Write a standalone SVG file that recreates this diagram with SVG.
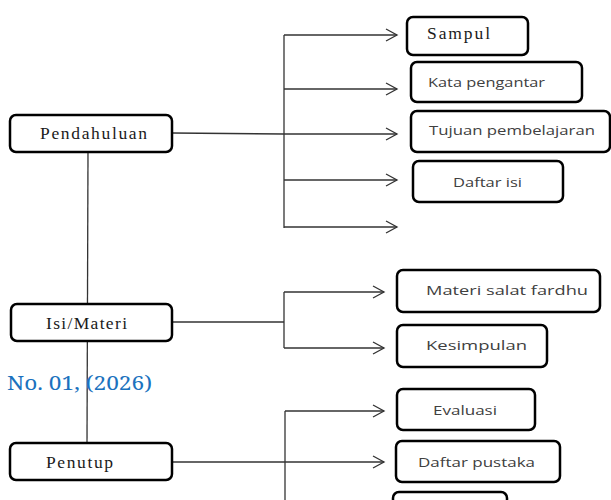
<svg xmlns="http://www.w3.org/2000/svg" width="611" height="500" viewBox="0 0 611 500">
<style>
.box{fill:#fff;stroke:#000;stroke-width:2.5}
.ln{fill:none;stroke:#333;stroke-width:1.3}
.serif{font-family:"Liberation Serif","Times New Roman",serif;font-size:17.5px;font-weight:normal;fill:#1a1a1a}
.sans{font-family:"Open Sans","Liberation Sans",sans-serif;font-size:13.5px;fill:#404040}
</style>
<defs>
<marker id="ah" markerWidth="14" markerHeight="14" refX="12" refY="7" orient="auto" markerUnits="userSpaceOnUse">
<path d="M1,1 L12,7 L1,13" fill="none" stroke="#333" stroke-width="1.3"/>
</marker>
</defs>
<rect width="611" height="500" fill="#fff"/>
<g id="connectors">
<path class="ln" d="M88,152 L87,443"/>
<path class="ln" d="M172,133 L284,134"/>
<path class="ln" d="M284,35 L284,228"/>
<path class="ln" d="M284,35 L397,35" marker-end="url(#ah)"/>
<path class="ln" d="M284,89 L397,89" marker-end="url(#ah)"/>
<path class="ln" d="M284,134 L397,134" marker-end="url(#ah)"/>
<path class="ln" d="M284,180 L397,180" marker-end="url(#ah)"/>
<path class="ln" d="M284,227 L397,227" marker-end="url(#ah)"/>
<path class="ln" d="M172,322 L284,322"/>
<path class="ln" d="M284,292 L284,348"/>
<path class="ln" d="M284,292 L384,292" marker-end="url(#ah)"/>
<path class="ln" d="M284,348 L384,348" marker-end="url(#ah)"/>
<path class="ln" d="M285,411 L285,500"/>
<path class="ln" d="M285,411 L384,411" marker-end="url(#ah)"/>
<path class="ln" d="M172,462 L384,462" marker-end="url(#ah)"/>
</g>
<text x="7" y="390" font-family="'Noto Serif','DejaVu Serif','Liberation Serif',serif" font-size="20" fill="#1b72be" textLength="145" lengthAdjust="spacingAndGlyphs">No. 01, (2026)</text>
<g id="pendahuluan"><rect class="box" x="10" y="115" width="162" height="37" rx="6"/><text class="serif" x="40" y="139" textLength="107" lengthAdjust="spacing">Pendahuluan</text></g>
<g id="isi-materi"><rect class="box" x="11" y="304" width="161" height="37" rx="6"/><text class="serif" x="46" y="329" textLength="81" lengthAdjust="spacing">Isi/Materi</text></g>
<g id="penutup"><rect class="box" x="10" y="443" width="162" height="37" rx="6"/><text class="serif" x="46" y="468" textLength="67" lengthAdjust="spacing">Penutup</text></g>
<g id="sampul"><rect class="box" x="407" y="17" width="121" height="38" rx="6"/><text class="serif" x="427" y="39" textLength="63" lengthAdjust="spacing">Sampul</text></g>
<g id="kata-pengantar"><rect class="box" x="411" y="62" width="171" height="40" rx="6"/><text class="sans" x="428" y="87" textLength="117" lengthAdjust="spacingAndGlyphs">Kata pengantar</text></g>
<g id="tujuan"><rect class="box" x="411" y="111" width="199" height="41" rx="6"/><text class="sans" x="429" y="135" textLength="166" lengthAdjust="spacingAndGlyphs">Tujuan pembelajaran</text></g>
<g id="daftar-isi"><rect class="box" x="413" y="161" width="150" height="41" rx="6"/><text class="sans" x="453" y="187" textLength="69" lengthAdjust="spacingAndGlyphs">Daftar isi</text></g>
<g id="materi-salat"><rect class="box" x="397" y="270" width="203" height="42" rx="6"/><text class="sans" x="426" y="295" textLength="162" lengthAdjust="spacingAndGlyphs">Materi salat fardhu</text></g>
<g id="kesimpulan"><rect class="box" x="397" y="325" width="150" height="42" rx="6"/><text class="sans" x="426" y="350" textLength="101" lengthAdjust="spacingAndGlyphs">Kesimpulan</text></g>
<g id="evaluasi"><rect class="box" x="397" y="389" width="138" height="41" rx="6"/><text class="sans" x="433" y="415" textLength="64" lengthAdjust="spacingAndGlyphs">Evaluasi</text></g>
<g id="daftar-pustaka"><rect class="box" x="396" y="441" width="164" height="41" rx="6"/><text class="sans" x="418" y="467" textLength="117" lengthAdjust="spacingAndGlyphs">Daftar pustaka</text></g>
<g id="partial-box"><rect class="box" x="393" y="492" width="114" height="40" rx="6"/></g>
</svg>
